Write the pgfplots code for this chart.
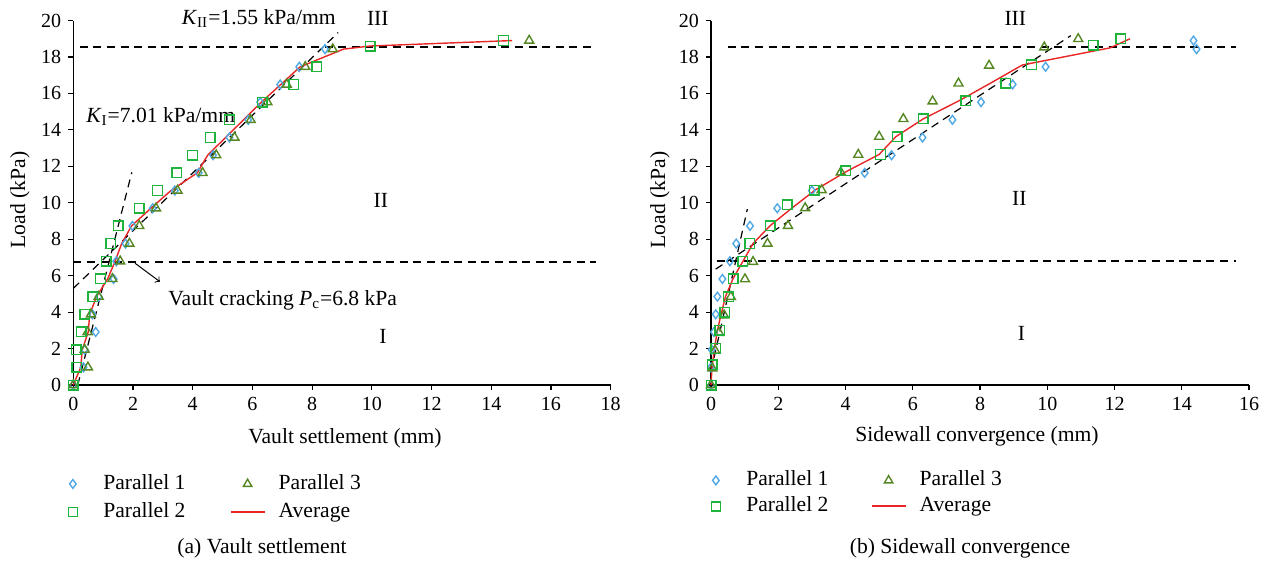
\documentclass[border=0pt]{standalone}
\usepackage{fontspec}
\setmainfont{Liberation Serif}
\usepackage{pgfplots}
\pgfplotsset{compat=1.18}
\definecolor{pone}{RGB}{80,168,228}
\definecolor{ptwo}{RGB}{30,180,60}
\definecolor{pthree}{RGB}{85,135,35}
\definecolor{avgred}{RGB}{232,38,38}
\newcommand{\lbl}{\fontsize{10.8}{13}\selectfont}

\pgfplotsset{
  loadplot/.style={
    scale only axis, clip=false,
    height=182.25pt,
    ymin=0, ymax=20, ytick={0,2,...,20},
    axis x line*=bottom, axis y line*=left,
    tick align=outside, major tick length=2.5pt,
    every tick/.style={black, line width=0.6pt},
    axis line style={line width=0.7pt},
    /pgf/number format/assume math mode=true,
    tick label style={font=\fontsize{10}{12}\selectfont},
    legend columns=2, legend cell align=left,
    legend style={draw=none, fill=none, inner sep=0pt,
      font=\lbl,
      at={(axis description cs:0,0)}, anchor=north west,
      row sep=3.5pt,
      nodes={inner xsep=0pt, inner ysep=0pt, text height=8pt, text depth=2.5pt},
      /tikz/every odd column/.append style={column sep=6.5pt},
      /tikz/every even column/.append style={column sep=22pt}},
  },
  p1/.style={only marks, mark=diamond, mark size=2.2pt, pone, mark options={line width=0.7pt},
    legend image code/.code={\path (0cm,0cm) (0.6cm,0cm);
      \draw[pone, line width=0.7pt] plot[only marks, mark=diamond, mark size=2.2pt] coordinates {(0.3cm,0cm)};}},
  p2/.style={only marks, mark=square, mark size=2.4pt, ptwo, mark options={line width=0.7pt},
    legend image code/.code={\path (0cm,0cm) (0.6cm,0cm);
      \draw[ptwo, line width=0.7pt] plot[only marks, mark=square, mark size=2.2pt] coordinates {(0.3cm,0cm)};}},
  p3/.style={only marks, mark=triangle, mark size=2.6pt, pthree, mark options={line width=0.7pt},
    legend image code/.code={\path (0cm,0cm) (0.6cm,0cm);
      \draw[pthree, line width=0.7pt] plot[only marks, mark=triangle, mark size=2.4pt] coordinates {(0.3cm,0cm)};}},
  av/.style={avgred, line width=0.7pt, no marks,
    legend image code/.code={\draw[avgred, line width=1pt] (0cm,0cm) -- (0.6cm,0cm);}},
  guide/.style={black, dash pattern=on 4pt off 2.8pt, line width=0.6pt, no marks, forget plot},
}

\begin{document}
\begin{tikzpicture}
\useasboundingbox (0,0) rectangle (636pt,-282pt);

% ---------- (a) vault settlement ----------
\begin{axis}[loadplot,
  at={(36.65pt,-192.5pt)}, anchor=south west,
  width=268.7pt,
  xmin=0, xmax=18, xtick={0,2,...,18},
  legend style={xshift=-9.15pt, yshift=-44pt},
]
\addplot[guide] coordinates {(0.22,18.55)(17.5,18.55)};
\addplot[guide] coordinates {(0,6.75)(17.5,6.75)};
\addplot[guide] coordinates {(0.15,0)(1.96,11.67)};
\addplot[guide] coordinates {(0.0,5.3)(8.87,19.34)};

\addplot[p1] coordinates {
  (0,0)(0.34,0.97)(0.38,1.94)(0.75,2.91)(0.64,3.88)(0.85,4.85)(1.35,5.82)
  (1.44,6.79)(1.75,7.76)(1.98,8.73)(2.66,9.70)(3.40,10.67)(4.20,11.64)
  (4.68,12.61)(5.23,13.58)(5.86,14.55)(6.26,15.52)(6.93,16.49)(7.57,17.46)(8.43,18.43)};
\addlegendentry{Parallel 1}
\addplot[p3] coordinates {
  (0,0)(0.49,0.97)(0.38,1.94)(0.48,2.91)(0.59,3.88)(0.85,4.85)(1.31,5.82)
  (1.57,6.79)(1.88,7.76)(2.21,8.73)(2.77,9.70)(3.49,10.67)(4.33,11.64)
  (4.79,12.61)(5.40,13.58)(5.94,14.55)(6.50,15.52)(7.15,16.49)(7.77,17.46)
  (8.69,18.43)(15.27,18.90)};
\addlegendentry{Parallel 3}
\addplot[p2] coordinates {
  (0,0)(0.12,0.97)(0.10,1.94)(0.26,2.91)(0.38,3.88)(0.65,4.85)(0.91,5.82)
  (1.10,6.79)(1.26,7.76)(1.50,8.73)(2.21,9.70)(2.82,10.67)(3.46,11.64)
  (3.99,12.61)(4.58,13.58)(5.23,14.55)(6.33,15.52)(7.39,16.49)(8.16,17.46)
  (9.94,18.60)(14.41,18.90)};
\addlegendentry{Parallel 2}
\addplot[av] coordinates {
  (0,0)(0.25,0.97)(0.30,1.94)(0.50,2.91)(0.55,3.88)(0.78,4.85)(1.15,5.82)
  (1.40,6.79)(1.62,7.76)(1.95,8.73)(2.60,9.70)(3.27,10.67)(4.15,11.64)
  (4.50,12.61)(5.10,13.58)(5.70,14.55)(6.30,15.52)(6.95,16.49)(7.60,17.46)
  (9.05,18.43)(9.94,18.60)(14.70,18.90)};
\addlegendentry{Average}

\draw[->, line width=0.5pt] (axis cs:2.07,6.68) -- (axis cs:2.90,5.67);
\node[anchor=west, font=\lbl] at (axis cs:2.95,4.67)
  {Vault cracking \textit{P}\textsubscript{c}=6.8 kPa};
\node[anchor=west, font=\lbl] at (axis cs:0.2,14.73)
  {\textit{K}\textsubscript{I}=7.01 kPa/mm};
\node[anchor=west, font=\lbl] at (axis cs:3.4,20.1)
  {\textit{K}\textsubscript{II}=1.55 kPa/mm};
\node[font=\lbl] at (axis cs:10.2,20.1) {III};
\node[font=\lbl] at (axis cs:10.3,10.15) {II};
\node[font=\lbl] at (axis cs:10.37,2.69) {I};
\end{axis}

% ---------- (b) sidewall convergence ----------
\begin{axis}[loadplot,
  at={(355.5pt,-192.5pt)}, anchor=south west,
  width=269pt,
  xmin=0, xmax=16, xtick={0,2,...,16},
  legend style={xshift=-6.5pt, yshift=-42.25pt, row sep=2.5pt,
    /tikz/every even column/.append style={column sep=21pt}},
]
\addplot[guide] coordinates {(0.5,18.55)(15.6,18.55)};
\addplot[guide] coordinates {(0.17,6.8)(15.6,6.8)};
\addplot[guide] coordinates {(0.0,0.75)(1.08,9.65)};
\addplot[guide] coordinates {(0.14,6.36)(10.7,19.17)};

\addplot[p1] coordinates {
  (0,0)(0,0.97)(0.02,1.94)(0.09,2.91)(0.14,3.88)(0.19,4.85)(0.34,5.82)
  (0.56,6.79)(0.75,7.76)(1.16,8.73)(1.97,9.70)(3.00,10.67)(4.57,11.64)
  (5.37,12.61)(6.29,13.58)(7.18,14.55)(8.03,15.52)(8.97,16.49)(9.95,17.46)
  (14.44,18.43)(14.35,18.90)};
\addlegendentry{Parallel 1}
\addplot[p3] coordinates {
  (0,0)(0.04,0.92)(0.12,1.90)(0.24,2.87)(0.39,3.83)(0.59,4.84)(1.01,5.81)
  (1.25,6.76)(1.68,7.76)(2.29,8.74)(2.80,9.71)(3.29,10.70)(3.86,11.67)
  (4.38,12.64)(5.00,13.63)(5.72,14.60)(6.59,15.57)(7.36,16.55)(8.27,17.53)
  (9.91,18.53)(10.92,18.99)};
\addlegendentry{Parallel 3}
\addplot[p2] coordinates {
  (0,0)(0.04,1.10)(0.14,2.00)(0.26,3.00)(0.41,4.00)(0.52,4.85)(0.66,5.82)
  (0.95,6.79)(1.15,7.76)(1.76,8.73)(2.27,9.88)(3.07,10.70)(4.01,11.76)
  (5.04,12.65)(5.54,13.63)(6.31,14.60)(7.58,15.60)(8.77,16.57)(9.53,17.56)
  (11.37,18.65)(12.19,19.00)};
\addlegendentry{Parallel 2}
\addplot[av] coordinates {
  (0,0)(0.03,0.97)(0.10,1.94)(0.18,2.91)(0.30,3.88)(0.43,4.85)(0.65,5.82)
  (0.95,6.79)(1.25,7.76)(1.75,8.73)(2.40,9.70)(3.10,10.70)(4.01,11.70)
  (5.00,12.65)(5.50,13.63)(6.31,14.60)(7.38,15.60)(8.30,16.55)(9.26,17.56)
  (11.87,18.50)(12.46,19.00)};
\addlegendentry{Average}

\node[font=\lbl] at (axis cs:9.05,20.1) {III};
\node[font=\lbl] at (axis cs:9.17,10.26) {II};
\node[font=\lbl] at (axis cs:9.23,2.85) {I};
\end{axis}

% axis titles and captions
\node[font=\lbl] at (172.5pt,-219pt) {Vault settlement (mm)};
\node[font=\lbl, rotate=90] at (10pt,-100pt) {Load (kPa)};
\node[font=\lbl] at (488.5pt,-218pt) {Sidewall convergence (mm)};
\node[font=\lbl, rotate=90] at (330pt,-100pt) {Load (kPa)};
\node[font=\lbl] at (131pt,-274pt) {(a) Vault settlement};
\node[font=\lbl] at (480pt,-274pt) {(b) Sidewall convergence};
\end{tikzpicture}
\end{document}
